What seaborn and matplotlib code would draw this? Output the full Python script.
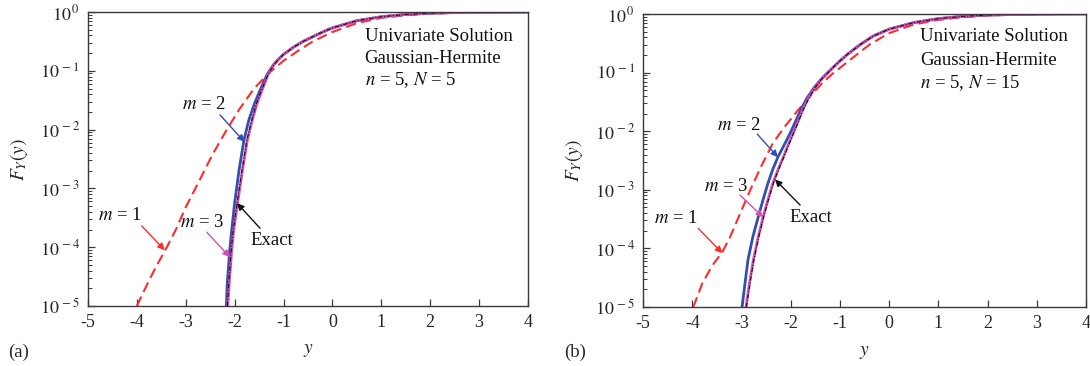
import matplotlib
matplotlib.use("Agg")
import matplotlib.pyplot as plt
import seaborn as sns
from matplotlib.ticker import FixedLocator, FixedFormatter, LogLocator, NullFormatter

# ---------------- data ----------------
x_ticks = [-5, -4, -3, -2, -1, 0, 1, 2, 3, 4]
x_tick_labels = ["-5", "-4", "-3", "-2", "-1", "0", "1", "2", "3", "4"]
y_exponents = [-5, -4, -3, -2, -1, 0]

# upper tail shared by the close curves
top_x = [0.5, 1.0, 1.5, 2.0, 2.5, 3.0, 3.5, 4.0]
top_F = [0.71, 0.83, 0.91, 0.955, 0.98, 0.992, 0.998, 1.0]

# panel (a): n = 5, N = 5
a_low_F = [1e-5, 2.51e-5, 4.07e-5, 8.91e-5, 1.95e-4, 5.62e-4, 2.04e-3, 6.61e-3, 1.45e-2, 2.82e-2,
           4.68e-2, 8.51e-2, 0.126, 0.158, 0.19, 0.251, 0.316, 0.38, 0.457, 0.537]
a_exact_x = [-2.15, -2.12, -2.10, -2.07, -2.03, -1.95, -1.85, -1.75, -1.65, -1.55,
             -1.45, -1.32, -1.2, -1.1, -1.0, -0.8, -0.6, -0.4, -0.2, 0.0] + top_x
a_exact_F = a_low_F + top_F
a_m3_x = [-2.14, -2.11, -2.09, -2.06, -2.02, -1.94, -1.84, -1.74, -1.64, -1.54,
          -1.44, -1.32, -1.2, -1.1, -1.0, -0.8, -0.6, -0.4, -0.2, 0.0] + top_x
a_m3_F = a_low_F + top_F
a_m2_x = [-2.17, -2.15, -2.13, -2.10, -2.06, -2.00, -1.91, -1.81, -1.71, -1.59,
          -1.48, -1.34, -1.21, -1.1, -1.0, -0.8, -0.6, -0.4, -0.2, 0.0] + top_x
a_m2_F = a_low_F + top_F
a_m1_x = [-4.0, -3.8, -3.6, -3.43, -3.2, -3.0, -2.71, -2.45, -2.16, -1.9, -1.6, -1.3, -1.0,
          -0.7, -0.4, 0.0, 0.5, 1.0, 1.5, 2.0, 2.5, 3.0, 3.5, 4.0]
a_m1_F = [1e-5, 2.24e-5, 4.79e-5, 8.51e-5, 2e-4, 4.79e-4, 1.41e-3, 3.8e-3, 1e-2, 2.24e-2, 5.01e-2,
          9.12e-2, 0.148, 0.219, 0.316, 0.457, 0.646, 0.794, 0.881, 0.938, 0.97, 0.989, 0.995, 1.0]

# panel (b): n = 5, N = 15
b_low_F = [1e-5, 2.51e-5, 6.31e-5, 1.58e-4, 3.47e-4, 6.92e-4, 1.32e-3, 2.29e-3, 3.63e-3, 5.89e-3,
           9.33e-3, 1.48e-2, 2.19e-2, 3.55e-2, 5.62e-2, 7.76e-2, 0.1, 0.132, 0.158, 0.204,
           0.295, 0.417, 0.55]
b_exact_x = [-2.90, -2.83, -2.75, -2.65, -2.55, -2.45, -2.35, -2.24, -2.14, -2.04,
             -1.94, -1.84, -1.76, -1.64, -1.5, -1.37, -1.24, -1.1, -1.0, -0.85,
             -0.6, -0.33, 0.0] + top_x
b_exact_F = b_low_F + top_F
b_m3_x = [-2.91, -2.84, -2.76, -2.66, -2.56, -2.46, -2.36, -2.25, -2.15, -2.05,
          -1.95, -1.85, -1.77, -1.65, -1.5, -1.37, -1.24, -1.1, -1.0, -0.85,
          -0.6, -0.33, 0.0] + top_x
b_m3_F = b_low_F + top_F
b_m2_x = [-2.99, -2.93, -2.87, -2.77, -2.66, -2.56, -2.46, -2.36, -2.26, -2.13,
          -2.01, -1.90, -1.81, -1.68, -1.52, -1.38, -1.25, -1.1, -1.0, -0.85,
          -0.6, -0.33, 0.0] + top_x
b_m2_F = b_low_F + top_F
b_m1_x = [-3.98, -3.8, -3.6, -3.39, -3.23, -3.0, -2.82, -2.6, -2.36, -2.1, -1.85, -1.6, -1.35,
          -1.15, -1.0, -0.7, -0.4, 0.0, 0.5, 1.0, 1.5, 2.0, 2.5, 3.0, 3.5, 4.0]
b_m1_F = [1e-5, 2.5e-5, 5e-5, 8.7e-5, 1.58e-4, 4.47e-4, 1e-3, 2.51e-3, 6.31e-3, 1.26e-2, 2.29e-2,
          3.98e-2, 6.76e-2, 9.55e-2, 0.12, 0.19, 0.30, 0.47, 0.66, 0.79, 0.88, 0.94, 0.97, 0.989,
          0.995, 1.0]

info_a = ["Univariate Solution", "Gaussian-Hermite", r"$n$ = 5, $N$ = 5"]
info_b = ["Univariate Solution", "Gaussian-Hermite", r"$n$ = 5, $N$ = 15"]

# ---------------- style ----------------
sns.set_style("ticks", {"xtick.direction": "in", "ytick.direction": "in"})
plt.rcParams["font.family"] = ["Liberation Serif", "DejaVu Serif"]
plt.rcParams["mathtext.fontset"] = "stix"
plt.rcParams["axes.unicode_minus"] = False

RED = "#FF2B2B"
BLUE = "#2F4FB2"
MAG = "#D94DB6"
BLACK = "#111111"
SPINE = "#3a3a3a"

fig = plt.figure(figsize=(10.9, 3.66), dpi=100)
axA = fig.add_axes([0.0807, 0.1639, 0.4037, 0.8033])
axB = fig.add_axes([0.590, 0.161, 0.4064, 0.801])


def draw_panel(ax, ex_x, ex_F, m1_x, m1_F, m2_x, m2_F, m3_x, m3_F):
    sns.lineplot(x=m1_x, y=m1_F, ax=ax, color=RED, lw=1.5, linestyle=(0, (5, 2.5)),
                 sort=False, estimator=None)
    sns.lineplot(x=m2_x, y=m2_F, ax=ax, color=BLUE, lw=2.0, sort=False, estimator=None)
    sns.lineplot(x=m3_x, y=m3_F, ax=ax, color=MAG, lw=2.0, sort=False, estimator=None)
    sns.lineplot(x=ex_x, y=ex_F, ax=ax, color=BLACK, lw=0.8, linestyle=(0, (4, 1.5, 1, 1.5)),
                 sort=False, estimator=None)
    ax.set_yscale("log")
    ax.set_xlim(-5, 4)
    ax.set_ylim(1e-5, 1)
    ax.xaxis.set_major_locator(FixedLocator(x_ticks))
    ax.xaxis.set_major_formatter(FixedFormatter(x_tick_labels))
    ax.yaxis.set_major_locator(FixedLocator([10.0 ** e for e in y_exponents]))
    ax.yaxis.set_major_formatter(FixedFormatter([r"$10^{\,%d}$" % e for e in y_exponents]))
    ax.yaxis.set_minor_locator(LogLocator(base=10, subs=range(2, 10)))
    ax.yaxis.set_minor_formatter(NullFormatter())
    ax.tick_params(axis="both", which="major", length=5, width=0.9, color=SPINE,
                   labelsize=13, pad=6, top=False, right=False)
    ax.tick_params(axis="y", which="minor", length=3, width=0.7, color=SPINE, right=False)
    for sp in ax.spines.values():
        sp.set_visible(True)
        sp.set_color(SPINE)
        sp.set_linewidth(1.0)
    ax.set_xlabel(r"$y$", fontsize=14, labelpad=8)
    ax.set_ylabel(r"$F_Y(y)$", fontsize=14, labelpad=7)


def label(ax, text, pos, start, tip, color):
    ax.text(pos[0], pos[1], text, fontsize=13.5, ha="center", va="center", color="#111111")
    ax.annotate("", xy=tip, xytext=start,
                arrowprops=dict(arrowstyle="-|>", color=color, lw=1.0, mutation_scale=10,
                                shrinkA=0, shrinkB=0))


draw_panel(axA, a_exact_x, a_exact_F, a_m1_x, a_m1_F, a_m2_x, a_m2_F, a_m3_x, a_m3_F)
draw_panel(axB, b_exact_x, b_exact_F, b_m1_x, b_m1_F, b_m2_x, b_m2_F, b_m3_x, b_m3_F)

# panel (a) annotations
label(axA, r"$m$ = 2", (-2.63, 0.027), (-2.30, 0.0178), (-1.80, 6.2e-3), BLUE)
label(axA, r"$m$ = 1", (-4.35, 3.4e-4), (-3.90, 2.3e-4), (-3.43, 8.9e-5), RED)
label(axA, r"$m$ = 3", (-2.67, 2.6e-4), (-2.57, 1.8e-4), (-2.10, 6.8e-5), MAG)
label(axA, "Exact", (-1.24, 1.3e-4), (-1.48, 2.1e-4), (-1.95, 5.6e-4), BLACK)
for txt, yv in zip(info_a, [0.39, 0.165, 0.069]):
    axA.text(0.66, yv, txt, fontsize=13.5, ha="left", va="center", color="#111111")

# panel (b) annotations
label(axB, r"$m$ = 2", (-3.05, 0.0123), (-2.68, 8.9e-3), (-2.26, 3.6e-3), BLUE)
label(axB, r"$m$ = 3", (-3.31, 1.15e-3), (-3.03, 8.1e-4), (-2.56, 3.4e-4), MAG)
label(axB, r"$m$ = 1", (-4.33, 3.3e-4), (-3.88, 2.2e-4), (-3.39, 8.3e-5), RED)
label(axB, "Exact", (-1.59, 3.4e-4), (-1.81, 5.5e-4), (-2.32, 1.5e-3), BLACK)
for txt, yv in zip(info_b, [0.41, 0.16, 0.067]):
    axB.text(0.63, yv, txt, fontsize=13.5, ha="left", va="center", color="#111111")

fig.text(0.017, 0.036, "(a)", fontsize=13.5, ha="center", va="center")
fig.text(0.5275, 0.036, "(b)", fontsize=13.5, ha="center", va="center")

fig.savefig("out.png", dpi=100)
